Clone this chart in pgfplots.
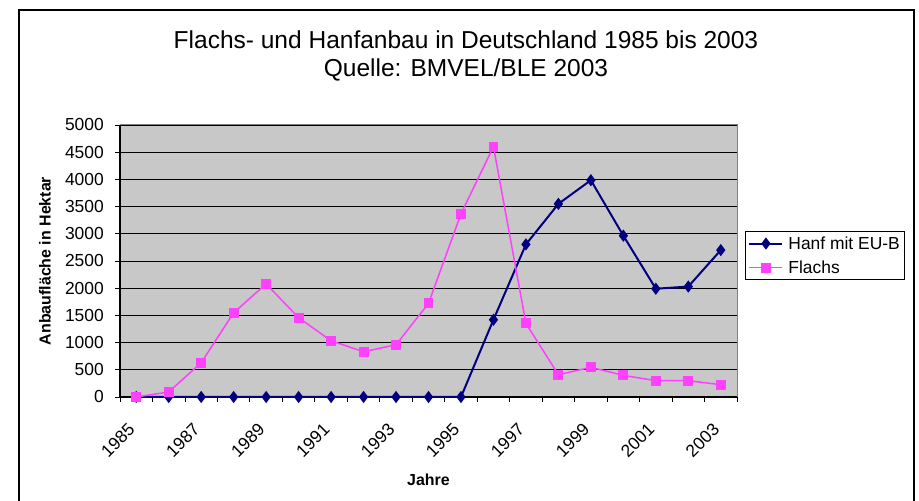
\documentclass[border=0pt]{standalone}
\usepackage{pgfplots}
\pgfplotsset{compat=1.18}
\usepackage{fontspec}
\setmainfont{Liberation Sans}
\definecolor{hanf}{RGB}{0,0,128}
\definecolor{flachs}{RGB}{255,64,255}
\definecolor{plotbg}{RGB}{200,200,200}
\begin{document}
\begin{tikzpicture}[x=1bp,y=1bp]
\path[use as bounding box] (0,0) rectangle (919,501);
\draw[line width=1.5bp] (19,-5) -- (19,491) -- (914,491) -- (914,-5);
\node[font=\fontsize{24.6}{28}\selectfont, align=center] at (466,445) {Flachs- und Hanfanbau in Deutschland 1985 bis 2003\\Quelle: BMVEL/BLE 2003};
\begin{axis}[
  at={(120bp,104bp)}, anchor=south west,
  scale only axis, width=617bp, height=272bp,
  xmin=-0.5, xmax=18.5, ymin=0, ymax=5000,
  clip=false,
  axis background/.style={fill=plotbg, draw=gray, line width=1bp},
  axis x line*=bottom, axis y line*=left,
  axis line style={black, line width=1.2bp, -},
  ytick={0,500,...,5000},
  ymajorgrids, major grid style={black, line width=0.8bp},
  xtick={-0.5,0.5,...,18.5}, xticklabels={},
  extra x ticks={0,2,...,18},
  extra x tick labels={1985,1987,1989,1991,1993,1995,1997,1999,2001,2003},
  extra x tick style={major tick length=0pt, grid=none},
  tick align=outside,
  major tick length=5bp,
  tick style={black, line width=0.8bp},
  ticklabel style={font=\fontsize{17.5}{20}\selectfont},
  yticklabel style={inner xsep=0bp, xshift=-11bp},
  xticklabel style={xshift=-9bp, yshift=-25bp, rotate=45, anchor=north east, inner sep=0pt},
  scaled y ticks=false,
  /pgf/number format/assume math mode=true,
  /pgf/number format/1000 sep={},
  xlabel={Jahre}, ylabel={Anbaufläche in Hektar},
  every axis x label/.style={at={(axis description cs:0.5,-0.305)}, anchor=center, font=\fontsize{16}{18}\selectfont\bfseries},
  every axis y label/.style={at={(axis description cs:-0.1216,0.5)}, rotate=90, anchor=center, font=\fontsize{16}{18}\selectfont\bfseries},
  legend style={at={(1.013,0.61)}, anchor=north west, draw=black, fill=white, line width=0.8bp,
    font=\fontsize{17.5}{21}\selectfont, row sep=6bp, inner xsep=3bp, inner ysep=3bp,
    /tikz/every odd column/.style={column sep=3bp}},
  legend cell align=left,
  legend image code/.code={\draw[mark repeat=2,mark phase=2] plot coordinates {(0bp,0bp) (16.5bp,0bp) (33bp,0bp)};},
]
\addplot[hanf, line width=2bp, mark=diamond*, mark size=4.5bp, mark options={solid}] coordinates {
 (0,0) (1,0) (2,0) (3,0) (4,0) (5,0) (6,0) (7,0) (8,0) (9,0) (10,0)
 (11,1420) (12,2805) (13,3550) (14,3985) (15,2965) (16,1990) (17,2030) (18,2700)};
\addlegendentry{Hanf mit EU-B}
\addplot[flachs, line width=1.5bp, mark=square*, mark size=4.2bp, mark options={solid}] coordinates {
 (0,0) (1,92) (2,630) (3,1548) (4,2080) (5,1457) (6,1034) (7,832) (8,961) (9,1720)
 (10,3366) (11,4602) (12,1352) (13,410) (14,545) (15,398) (16,300) (17,300) (18,226)};
\addlegendentry{Flachs}
\end{axis}
\end{tikzpicture}
\end{document}
